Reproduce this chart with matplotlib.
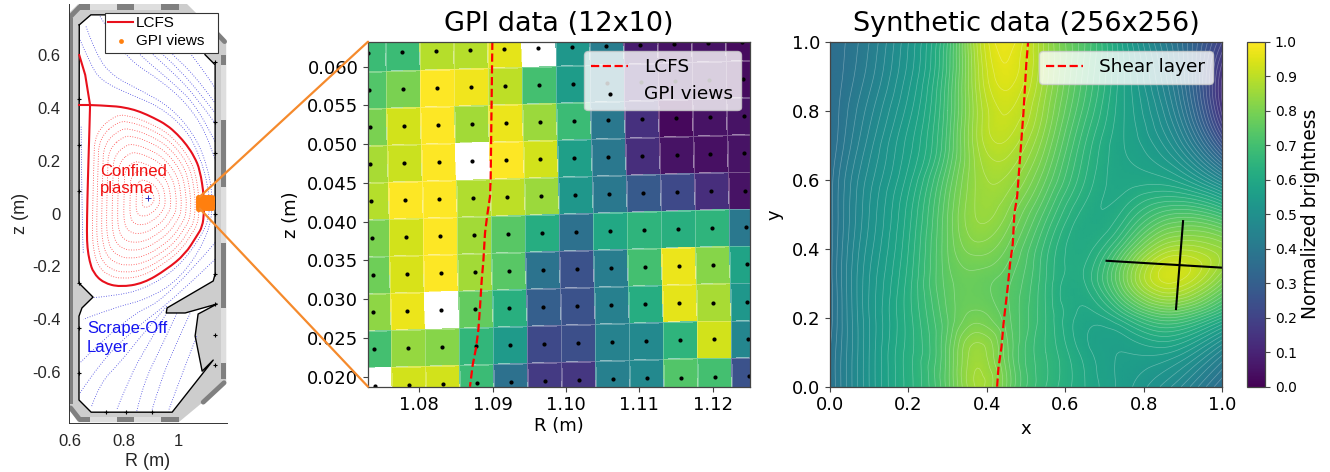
import numpy as np
import matplotlib
matplotlib.use('Agg')
import matplotlib.pyplot as plt
import matplotlib.tri as mtri
from matplotlib.patches import ConnectionPatch, Rectangle, PathPatch
from matplotlib.path import Path

W, H = 1330, 472

# ---- left panel : tokamak cross section (R, z in metres)
vessel_R = [.596, .630, 1.033, 1.178, 1.178, 1.002, .630, .596]
vessel_z = [.758, .792, .792, .645, -.640, -.789, -.789, -.739]
wall_R = [.634, .677, 1.044, 1.100, 1.137, 1.137, 1.130, .959, .956, 1.026, 1.144, 1.074, 1.063,
          1.089, 1.130, .978, .678, .633, .633, .644, .685, .633, .634]
wall_z = [.713, .751, .751, .600, .562, -.229, -.255, -.357, -.376, -.376, -.342, -.380, -.463,
          -.596, -.554, -.751, -.751, -.705, -.388, -.357, -.316, -.263, .713]
leg_R = [.634, .656, .671, .674]
leg_z = [.599, .524, .429, .410]
stub_R = [.674, .634]
stub_z = [.410, .410]
core_R = [.674, .672, .668, .664, .662, .664, .672, .686, .723, .785, .872, .958, 1.026, 1.069, 1.090,
          1.096, 1.096, 1.081, 1.060, 1.032, .998, .958, .909, .859, .816, .760, .674]
core_z = [.410, .330, .200, .051, -.074, -.130, -.180, -.224, -.262, -.278, -.264, -.211, -.154, -.085, -.050,
          .004, .064, .165, .215, .259, .299, .335, .362, .385, .398, .407, .410]
axis_R, axis_z = .890, .057
core_levels = [.10, .20, .30, .40, .50, .59, .68, .76, .84, .91]

sol_lines = [
    ([.637, .674, .711, .810, .933, 1.032, 1.081, 1.112, 1.119, 1.088, .995, .872, .760, .686],
     [.656, .568, .505, .455, .404, .316, .215, .102, 0, -.085, -.211, -.287, -.312, -.318]),
    ([.659, .699, .760, .859, .970, 1.057, 1.106, 1.131, 1.112, 1.007, .884, .760, .649],
     [.707, .593, .518, .467, .404, .303, .190, .051, -.085, -.249, -.325, -.356, -.400]),
    ([.711, .773, .835, .933, 1.032, 1.106, 1.137], [.745, .644, .568, .505, .417, .303, .202]),
    ([.740, .815, .885, .985, 1.075, 1.137], [.745, .644, .575, .490, .400, .270]),
    ([.773, .859, .958, 1.057, 1.137], [.745, .644, .555, .455, .341]),
    ([.815, .905, 1.005, 1.100, 1.137], [.745, .635, .545, .430, .380]),
    ([.859, .958, 1.057, 1.137], [.745, .618, .530, .417]),
    ([.933, 1.081, 1.137], [.745, .568, .473]),
    ([1.069, 1.137], [.631, .543]),
    ([.641, .644, .649], [.328, -.075, -.148]),
    ([1.137, .958, .810, .637], [-.110, -.325, -.388, -.564]),
    ([1.137, .983, .835, .711, .637], [-.173, -.325, -.438, -.564, -.678]),
    ([.958, .872, .785, .711, .680], [-.350, -.451, -.564, -.640, -.728]),
    ([.958, .884, .822, .773], [-.375, -.501, -.615, -.741]),
    ([.995, .933, .872, .847], [-.378, -.514, -.640, -.747]),
    ([1.044, .983, .933, .902], [-.378, -.514, -.640, -.747]),
    ([1.069, 1.020, .964], [-.464, -.589, -.747]),
]
probe_R = [.634] * 6 + [1.137] * 8 + [.733, .807, .905]
probe_z = [.433, .259, .086, -.264, -.432, -.604, .574, .345, .230, 0, -.230, -.343, -.460, -.574, -.751, -.751, -.751]

# (R0, R1, z0, z1, colour)
DARK, LIGHT = '#808080', '#dedede'
tiles = [
    (.596, .612, -.72, .74, DARK),
    (.633, .674, .770, .792, DARK), (.674, .773, .770, .792, LIGHT),
    (.773, .835, .770, .792, DARK), (.835, .937, .770, .792, LIGHT),
    (.937, 1.004, .770, .792, DARK),
    (.633, .674, -.789, -.768, DARK), (.674, .773, -.789, -.768, LIGHT),
    (.773, .835, -.789, -.768, DARK), (.835, .937, -.789, -.768, LIGHT),
    (.937, 1.004, -.789, -.768, DARK),
    (1.159, 1.178, .560, .600, DARK), (1.159, 1.178, .354, .560, LIGHT),
    (1.159, 1.178, .100, .354, DARK), (1.159, 1.178, -.110, .100, LIGHT),
    (1.159, 1.178, -.356, -.110, DARK), (1.159, 1.178, -.564, -.356, LIGHT),
    (1.159, 1.178, -.627, -.564, DARK),
]
edge_lines = [
    ([.602, .635], [.745, .780]), ([1.135, 1.172], [.690, .650]),
    ([1.170, 1.093], [-.640, -.713]), ([.602, .635], [-.735, -.778]),
]

# ---- middle panel : GPI frame
gpi = np.array([
    [.68, .68, .89, .89, .96, np.nan, .53, .42, .08, .05, .05, .03],
    [.73, .80, 1.0, .98, .90, .70, .55, .42, .10, .06, .05, .03],
    [.80, .93, 1.0, .86, .97, .85, .68, .40, .14, .02, .05, .05],
    [.87, .92, 1.0, np.nan, 1.0, .93, .56, .40, .13, .05, .04, .05],
    [.89, 1.0, 1.0, .88, .90, .85, .53, .40, .28, .22, .13, .05],
    [.80, .93, 1.0, .86, .74, .62, .37, .60, .65, .63, .65, .40],
    [.78, .94, 1.0, .86, .74, .38, .25, .42, .70, .97, .82, .58],
    [.83, .97, np.nan, .76, .63, .30, .25, .43, .62, .96, .87, .53],
    [.70, .84, .82, .66, .54, .22, .24, .44, .47, .65, .93, .46],
    [np.nan, .93, .93, .68, .37, .17, .16, .43, .47, .73, .70, .25],
])
# camera view centres: columns and rows read along the top row / first column,
# the whole grid is turned slightly by the two tilt numbers
view_R = [1.07305, 1.07769, 1.08233, 1.08696, 1.09160, 1.09624, 1.10087, 1.10551, 1.11015, 1.11479, 1.11942, 1.12406]
view_z = [.06173, .05696, .05218, .04741, .04263, .03786, .03309, .02831, .02354, .01876]
tilt_R, tilt_z = .0000955, .000125
gpi_lcfs_R = [1.08996, 1.08973, 1.08964, 1.08927, 1.08896, 1.08873, 1.08851, 1.08828, 1.08805, 1.08773, 1.08728, 1.08691]
gpi_lcfs_z = [.0632, .0456, .04323, .04086, .03854, .03484, .03248, .02903, .02603, .02367, .02151, .0187]

# ---- right panel : synthetic frame
syn_x = [0, .1, .2, .3, .37, .46, .55, .65, .75, .87, 1.0]
syn_y = [0, .1, .2, .3, .4, .5, .6, .7, .8, .9, 1.0]
syn = np.array([
    [.38, .52, .63, .75, .86, .76, .66, .60, .55, .48, .36],
    [.38, .52, .63, .75, .85, .75, .66, .59, .56, .56, .45],
    [.37, .52, .63, .74, .79, .74, .66, .59, .64, .72, .62],
    [.37, .52, .63, .75, .77, .74, .66, .62, .78, .92, .80],
    [.37, .51, .62, .76, .81, .77, .67, .61, .72, .87, .84],
    [.37, .50, .61, .76, .84, .81, .71, .61, .63, .72, .68],
    [.37, .49, .59, .74, .84, .85, .76, .64, .59, .58, .46],
    [.36, .47, .57, .71, .85, .89, .80, .66, .58, .50, .26],
    [.36, .45, .55, .70, .85, .92, .83, .69, .58, .45, .15],
    [.36, .43, .53, .69, .86, .95, .85, .71, .58, .42, .14],
    [.36, .42, .52, .68, .87, .97, .85, .72, .57, .40, .20],
])
shear_x = [.426, .4295, .437, .443, .452, .459, .466, .470, .477, .484, .493, .498, .5005, .505]
shear_y = [0, .056, .114, .191, .278, .357, .415, .502, .551, .657, .792, .889, .937, 1.0]
cross_x = [[.705, 1.0], [.882, .900]]
cross_y = [[.365, .345], [.225, .480]]
cbar_ticks = [0, .1, .2, .3, .4, .5, .6, .7, .8, .9, 1.0]


def box(x0, y0, x1, y1):
    # pixel box of the reference -> figure fractions
    return [x0 / W, 1 - y1 / H, (x1 - x0) / W, (y1 - y0) / H]


def smooth_path(r, z, closed=False):
    # quadratic bezier through the mid points, so the read-off points stay as control points
    p = np.column_stack([r, z])
    mids = (p[:-1] + p[1:]) / 2
    if closed:
        start = (p[0] + p[-1]) / 2
        ctrl = p
        ends = list(mids) + [start]
    else:
        start = p[0]
        ctrl = p[1:-1]
        ends = list(mids[1:-1]) + [p[-1]]
    verts = [start]
    codes = [Path.MOVETO]
    for c, e in zip(ctrl, ends):
        verts += [c, e]
        codes += [Path.CURVE3, Path.CURVE3]
    return Path(verts, codes)


fig = plt.figure(figsize=(W / 100, H / 100), dpi=100)
SPINE = '#444444'
HELV = 'Liberation Sans'

# left panel
ax1 = fig.add_axes(box(69, 4, 227, 422.5))
ax1.set_xlim(.596, 1.181)
ax1.set_ylim(-.790, .792)
ax1.fill(vessel_R, vessel_z, color='#cdcdcd', lw=0, zorder=1)
for r0, r1, z0, z1, c in tiles:
    ax1.add_patch(Rectangle((r0, z0), r1 - r0, z1 - z0, color=c, lw=0, zorder=2))
for rr, zz in edge_lines:
    ax1.plot(rr, zz, color=DARK, lw=3.5, zorder=2, solid_capstyle='round')
ax1.fill(wall_R, wall_z, color='white', lw=0, zorder=3)
ax1.plot(wall_R, wall_z, color='black', lw=1.0, zorder=6)
ax1.plot(probe_R, probe_z, '+', color='black', ms=3, mew=.8, zorder=7, clip_on=False)
for rr, zz in sol_lines:
    ax1.add_patch(PathPatch(smooth_path(rr, zz), fc='none', ec='#4040e0', lw=.6, ls=(0, (1, 2)), zorder=4))
core_R = np.array(core_R)
core_z = np.array(core_z)
for s in core_levels:
    ax1.add_patch(PathPatch(smooth_path(axis_R + s * (core_R[1:-1] - axis_R), axis_z + s * (core_z[1:-1] - axis_z), closed=True),
                            fc='none', ec='#ff4040', lw=.6, ls=(0, (1, 2)), zorder=4))
ax1.plot([axis_R], [axis_z], '+', color='#3030c0', ms=4, mew=.7, zorder=5)
LCFS_RED = '#e8101c'
ax1.plot(leg_R, leg_z, color=LCFS_RED, lw=1.5, zorder=8, label='LCFS')
ax1.plot(stub_R, stub_z, color=LCFS_RED, lw=1.5, zorder=8)
ax1.add_patch(PathPatch(smooth_path(core_R, core_z), fc='none', ec=LCFS_RED, lw=1.5, zorder=8))

rows, cols = np.meshgrid(np.arange(len(view_z)), np.arange(len(view_R)), indexing='ij')
view_RR = np.array(view_R)[cols] + tilt_R * rows
view_zz = np.array(view_z)[rows] + tilt_z * cols
ax1.scatter(view_RR.ravel(), view_zz.ravel(), s=12, color='#ff7f0e', lw=0, zorder=9, label='GPI views')

ax1.text(.711, .127, 'Confined\nplasma', color='#f01010', fontsize=12, family=HELV,
         va='center', linespacing=1.15, zorder=10)
ax1.text(.662, -.470, 'Scrape-Off\nLayer', color='#1414f0', fontsize=12, family=HELV,
         va='center', linespacing=1.3, zorder=10)
for s in ['top', 'right']:
    ax1.spines[s].set_visible(False)
for s in ['left', 'bottom']:
    ax1.spines[s].set_color('#333333')
    ax1.spines[s].set_linewidth(.7)
ax1.set_xticks([.6, .8, 1])
ax1.set_xticklabels(['0.6', '0.8', '1'])
ax1.set_yticks([-.6, -.4, -.2, 0, .2, .4, .6])
ax1.set_yticklabels(['-0.6', '-0.4', '-0.2', '0', '0.2', '0.4', '0.6'])
ax1.tick_params(length=0, labelsize=12, labelcolor='#262626', labelfontfamily=HELV, pad=8)
ax1.tick_params(axis='y', pad=6)
ax1.set_xlabel('R (m)', fontsize=13, family=HELV, color='#262626', labelpad=3)
ax1.set_ylabel('z (m)', fontsize=13, family=HELV, color='#262626', labelpad=2)
ax1.add_patch(Rectangle((.228, .883), .715, .0955, transform=ax1.transAxes, fc='white', ec='#333333', lw=.8,
                        zorder=19, clip_on=False))
leg1 = ax1.legend(loc='upper left', bbox_to_anchor=(.228, .9785), frameon=False, borderaxespad=0, borderpad=.2,
                  labelspacing=.25, handlelength=1.65, handletextpad=.15, prop={'family': HELV, 'size': 11})
leg1.set_zorder(20)

# middle panel
ax2 = fig.add_axes(box(368, 41.7, 750, 386.7))
cmap = plt.get_cmap('viridis').copy()
cmap.set_bad('white')
ax2.pcolormesh(view_RR, view_zz, np.ma.masked_invalid(gpi), shading='nearest', cmap=cmap, vmin=0, vmax=1,
               edgecolors=(1, 1, 1, .28), linewidth=.5)
ax2.plot(gpi_lcfs_R, gpi_lcfs_z, color='red', ls='--', lw=1.6, label='LCFS')
ax2.scatter(view_RR.ravel(), view_zz.ravel(), s=9, color='black', lw=0, label='GPI views')
ax2.set_xlim(1.0730, 1.1251)
ax2.set_ylim(.0187, .0632)
ax2.set_xticks([1.08, 1.09, 1.10, 1.11, 1.12])
ax2.set_xticklabels(['1.08', '1.09', '1.10', '1.11', '1.12'])
ax2.set_yticks([.02, .025, .03, .035, .04, .045, .05, .055, .06])
ax2.set_yticklabels(['0.020', '0.025', '0.030', '0.035', '0.040', '0.045', '0.050', '0.055', '0.060'])
ax2.tick_params(labelsize=13, color=SPINE, length=3.5)
ax2.set_xlabel('R (m)', fontsize=13, labelpad=2)
ax2.set_ylabel('z (m)', fontsize=13, labelpad=5)
ax2.set_title('GPI data (12x10)', fontsize=19.5, pad=8)
ax2.legend(loc='upper right', bbox_to_anchor=(.976, .973), fontsize=13.3, borderaxespad=0, handlelength=2.0,
           handletextpad=.87, borderpad=.4, labelspacing=.46)

# right panel
ax3 = fig.add_axes(box(830, 41.7, 1222.3, 386.7))
xx, yy = np.meshgrid(syn_x, syn_y)
tr = mtri.Triangulation(xx.ravel(), yy.ravel())
refiner = mtri.UniformTriRefiner(tr)
fine_tr, fine_z = refiner.refine_field(syn.ravel(), mtri.CubicTriInterpolator(tr, syn.ravel(), kind='min_E'), subdiv=4)
im = ax3.tripcolor(fine_tr, fine_z, shading='gouraud', cmap='viridis', vmin=0, vmax=1)
ax3.tricontour(fine_tr, fine_z, levels=np.arange(0, 1.001, .02), colors='white', linewidths=.5, alpha=.3)
ax3.plot(shear_x, shear_y, color='red', ls='--', lw=1.6, label='Shear layer')
for cx, cy in zip(cross_x, cross_y):
    ax3.plot(cx, cy, color='black', lw=1.5)
ax3.set_xlim(0, 1)
ax3.set_ylim(0, 1)
ax3.set_xticks([0, .2, .4, .6, .8, 1.0])
ax3.set_yticks([0, .2, .4, .6, .8, 1.0])
ax3.tick_params(labelsize=13, color=SPINE, length=3.5)
ax3.set_xlabel('x', fontsize=13, labelpad=4)
ax3.set_ylabel('y', fontsize=13, labelpad=6)
ax3.set_title('Synthetic data (256x256)', fontsize=19.5, pad=8)
ax3.legend(loc='upper right', bbox_to_anchor=(.9755, .973), fontsize=13.3, borderaxespad=0, handlelength=2.0,
           handletextpad=.87, borderpad=.4)

# colour bar
cax = fig.add_axes(box(1247, 41.7, 1265, 386.7))
cb = fig.colorbar(im, cax=cax, ticks=cbar_ticks)
cb.ax.tick_params(labelsize=10, color=SPINE, length=3.5)
cb.set_label('Normalized brightness', fontsize=13.4, labelpad=3)

for ax in [ax2, ax3, cax]:
    for s in ax.spines.values():
        s.set_color(SPINE)
        s.set_linewidth(.9)

# orange zoom lines
for zy, ya in [(.0632, 1), (.0187, 0)]:
    con = ConnectionPatch(xyA=(1.08, zy), coordsA=ax1.transData, xyB=(0, ya), coordsB=ax2.transAxes,
                          color='#f58a2c', lw=1.6, zorder=30, clip_on=False)
    fig.add_artist(con)

fig.savefig('out.png', dpi=100)
